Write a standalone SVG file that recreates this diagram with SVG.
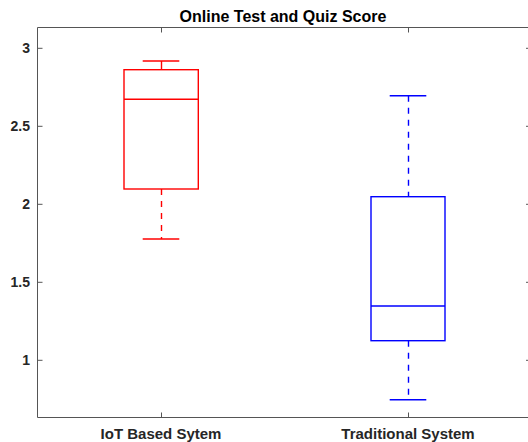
<svg xmlns="http://www.w3.org/2000/svg" width="528" height="442" viewBox="0 0 528 442">
<style>
  text { font-family: "Liberation Sans", Arial, sans-serif; font-weight: bold; fill: #262626; }
  .tick { font-size: 14px; }
  .xl { font-size: 15px; }
  .title { font-size: 16px; fill: #000; }
  .axis { stroke: #555; stroke-width: 1; fill: none; }
  .red { stroke: #ff0000; stroke-width: 1.4; fill: none; }
  .blue { stroke: #0000ff; stroke-width: 1.4; fill: none; }
  .dash { stroke-dasharray: 6 6; }
</style>
<rect x="0" y="0" width="528" height="442" fill="#fff"/>
<g id="axes">
  <path class="axis" d="M37.5,27.5 H531 M37.5,27.5 V417.5 H531"/>
  <path class="axis" d="M37.5,48.3 h5 M37.5,126.3 h5 M37.5,204.3 h5 M37.5,282.3 h5 M37.5,360.3 h5"/>
  <path class="axis" d="M531,48.3 h-5 M531,126.3 h-5 M531,204.3 h-5 M531,282.3 h-5 M531,360.3 h-5"/>
  <path class="axis" d="M161.5,417.5 v-5 M408.5,417.5 v-5 M161.5,27.5 v5 M408.5,27.5 v5"/>
  <text class="tick" x="30" y="53.3" text-anchor="end">3</text>
  <text class="tick" x="30" y="131.3" text-anchor="end">2.5</text>
  <text class="tick" x="30" y="209.3" text-anchor="end">2</text>
  <text class="tick" x="30" y="287.3" text-anchor="end">1.5</text>
  <text class="tick" x="30" y="365.3" text-anchor="end">1</text>
  <text class="xl" x="161" y="438.5" text-anchor="middle">IoT Based Sytem</text>
  <text class="xl" x="408" y="438.5" text-anchor="middle">Traditional System</text>
  <text class="title" x="283" y="21.5" text-anchor="middle">Online Test and Quiz Score</text>
</g>
<g id="box-iot">
  <rect class="red" x="124" y="69.7" width="74.3" height="119.3"/>
  <line class="red" x1="124" y1="99.3" x2="198.3" y2="99.3"/>
  <line class="red" x1="142.7" y1="61" x2="179.3" y2="61"/>
  <line class="red" x1="161.5" y1="61" x2="161.5" y2="69.7"/>
  <line class="red dash" x1="161.5" y1="189" x2="161.5" y2="239"/>
  <line class="red" x1="142.7" y1="239" x2="179.3" y2="239"/>
</g>
<g id="box-traditional">
  <rect class="blue" x="371" y="196.7" width="74" height="144"/>
  <line class="blue" x1="371" y1="306" x2="445" y2="306"/>
  <line class="blue" x1="389.7" y1="95.7" x2="426.3" y2="95.7"/>
  <line class="blue dash" x1="408.5" y1="95.7" x2="408.5" y2="196.7"/>
  <line class="blue dash" x1="408.5" y1="340.7" x2="408.5" y2="399.7"/>
  <line class="blue" x1="389.7" y1="399.7" x2="426.3" y2="399.7"/>
</g>
</svg>
